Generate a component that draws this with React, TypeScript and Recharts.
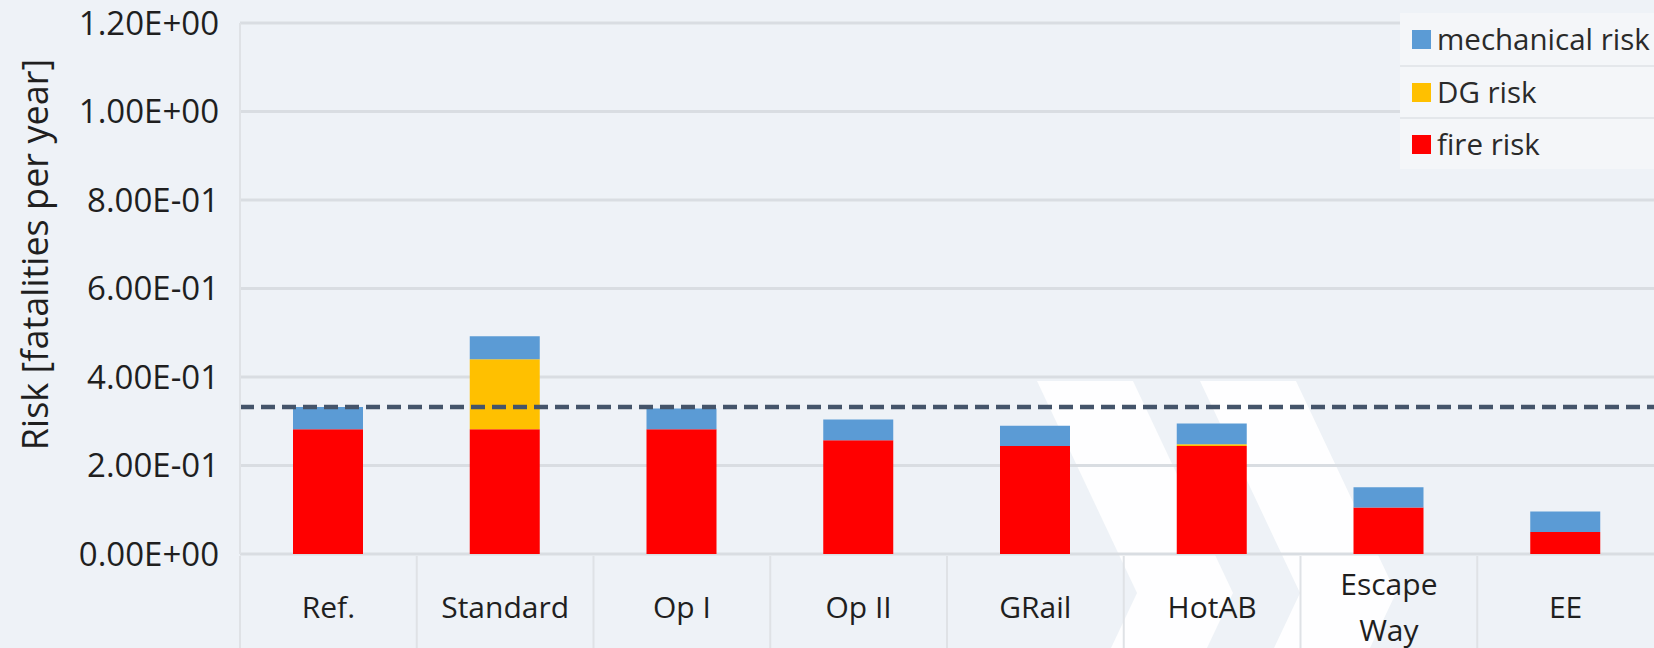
import React from "react";
import { BarChart, Bar, XAxis, YAxis, CartesianGrid, ReferenceLine, Legend } from "recharts";

const categories = ["Ref.", "Standard", "Op I", "Op II", "GRail", "HotAB", "Escape Way", "EE"];
const fireRisk = [0.282, 0.282, 0.282, 0.257, 0.244, 0.244, 0.105, 0.05];
const dgRisk = [0, 0.158, 0, 0, 0, 0.004, 0, 0];
const mechanicalRisk = [0.05, 0.052, 0.047, 0.047, 0.046, 0.047, 0.046, 0.046];
const yTicks = [0, 0.2, 0.4, 0.6, 0.8, 1.0, 1.2];

const series = [
  { key: "fire", label: "fire risk", color: "#ff0000" },
  { key: "dg", label: "DG risk", color: "#ffc000" },
  { key: "mech", label: "mechanical risk", color: "#5b9bd5" }
];

const data = categories.map((name, i) => ({
  name,
  fire: fireRisk[i],
  dg: dgRisk[i],
  mech: mechanicalRisk[i]
}));

// dashed threshold = total risk of the reference case
const refTotal = fireRisk[0] + dgRisk[0] + mechanicalRisk[0];

const W = 1654;
const H = 648;
const AXIS_W = 240;
const X_AXIS_H = 94;
const band = (W - AXIS_W) / categories.length;
const FONT = "'Open Sans', sans-serif";
const BG = "#eef2f7";
const TEXT = "#1f1f1f";

const fmtSci = (v: number) => {
  const [m, e] = v.toExponential(2).split("e");
  const sign = e[0] === "-" ? "-" : "+";
  return `${m}E${sign}${e.replace(/[+-]/, "").padStart(2, "0")}`;
};

function CategoryTick({ x, y, payload }: any) {
  const label: string = payload.value;
  const lines = label.length > 8 ? label.split(" ") : [label];
  const cy = y + 51;
  return (
    <g>
      <line x1={x - band / 2} x2={x - band / 2} y1={y} y2={y + X_AXIS_H} stroke="#dfe2e6" strokeWidth={2} />
      <text textAnchor="middle" fontFamily={FONT} fontSize={30} fill={TEXT}>
        {lines.map((l, i) => (
          <tspan key={i} x={x} y={cy + (i - (lines.length - 1) / 2) * 46} dy="0.35em">
            {l}
          </tspan>
        ))}
      </text>
    </g>
  );
}

function LegendBox() {
  const rows = [...series].reverse();
  return (
    <div style={{ width: 254, background: "#f4f6f9", fontFamily: FONT, fontSize: 29.5, color: "#2a2a2a", lineHeight: 1 }}>
      {rows.map((s, i) => (
        <div
          key={s.key}
          style={{
            height: 52,
            boxSizing: "border-box",
            display: "flex",
            alignItems: "center",
            paddingLeft: 12,
            borderTop: i ? "2px solid #e4e7eb" : "none",
            whiteSpace: "nowrap"
          }}
        >
          <span style={{ width: 19, height: 19, background: s.color, marginRight: 6, display: "inline-block", flex: "none" }} />
          {s.label}
        </div>
      ))}
    </div>
  );
}

// white chevron shapes of the slide background
const chevronX = [1037, 1200];
const chevronPoints = (x0: number) =>
  `${x0},381 ${x0 + 96},381 ${x0 + 196},593 ${x0 + 170},648 ${x0 + 74},648 ${x0 + 100},593`;

export default function App() {
  return (
    <div style={{ position: "absolute", left: 0, top: 0, width: W, height: H, background: BG, overflow: "hidden" }}>
      <svg width={W} height={H} style={{ position: "absolute", left: 0, top: 0 }}>
        {chevronX.map((x0) => (
          <polygon key={x0} points={chevronPoints(x0)} fill="#ffffff" opacity={0.9} />
        ))}
      </svg>
      <div style={{ position: "absolute", left: 0, top: 0 }}>
        <BarChart width={W} height={H} data={data} margin={{ top: 23, right: 0, bottom: 0, left: 0 }}>
          <CartesianGrid vertical={false} stroke="#d9dde2" strokeWidth={3} />
          <XAxis
            dataKey="name"
            height={X_AXIS_H}
            axisLine={false}
            tickLine={false}
            tickSize={0}
            interval={0}
            tick={<CategoryTick />}
          />
          <YAxis
            width={AXIS_W}
            domain={[0, 1.2]}
            ticks={yTicks}
            interval={0}
            tickFormatter={fmtSci}
            tickLine={false}
            tickSize={0}
            tickMargin={21}
            axisLine={{ stroke: "#dfe2e6", strokeWidth: 2 }}
            tick={{ fontFamily: FONT, fontSize: 33, fill: TEXT }}
            label={{
              content: ({ viewBox }: any) => (
                <text
                  transform={`translate(${viewBox.x + 34}, ${viewBox.y + viewBox.height / 2 - 34}) rotate(-90)`}
                  textAnchor="middle"
                  dominantBaseline="central"
                  fontFamily={FONT}
                  fontSize={36}
                  fill={TEXT}
                >
                  Risk [fatalities per year]
                </text>
              )
            }}
          />
          {series.map((s) => (
            <Bar key={s.key} dataKey={s.key} name={s.label} stackId="risk" fill={s.color} barSize={70} isAnimationActive={false} />
          ))}
          <ReferenceLine y={refTotal} stroke="#44546a" strokeWidth={4.5} strokeDasharray="14 7" />
          <Legend
            layout="vertical"
            align="center"
            verticalAlign="middle"
            content={() => <LegendBox />}
            wrapperStyle={{ top: 13, left: 1400, width: 254 }}
          />
        </BarChart>
      </div>
    </div>
  );
}
